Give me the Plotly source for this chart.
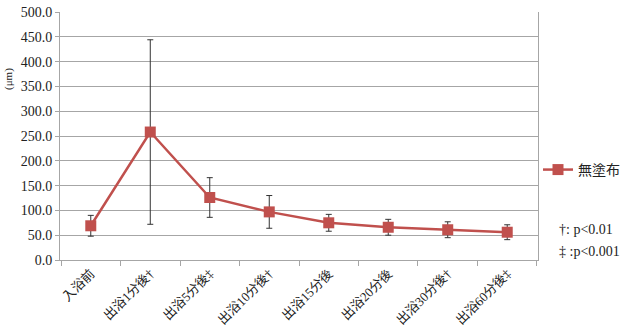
import plotly.graph_objects as go

categories = ["入浴前", "出浴1分後†", "出浴5分後‡", "出浴10分後†", "出浴15分後",
              "出浴20分後", "出浴30分後†", "出浴60分後‡"]
values = [69, 258, 126, 97, 75, 66, 61, 56]
errors = [21, 186, 40, 33, 17, 16, 16, 15]
series_name = "無塗布"
y_ticks = [0, 50, 100, 150, 200, 250, 300, 350, 400, 450, 500]

serif = "Liberation Serif, Noto Sans CJK JP, serif"
red = "#C0504D"
grid = "#A6A6A6"

fig = go.Figure()
fig.add_trace(go.Scatter(
    x=categories, y=values, name=series_name, mode="lines+markers",
    line=dict(color=red, width=2.5),
    marker=dict(symbol="square", size=11, color=red),
    error_y=dict(type="data", array=errors, visible=True, color="#333333",
                 thickness=1, width=3),
))

fig.update_layout(
    width=631, height=335,
    margin=dict(l=60, r=93, t=12, b=75, autoexpand=False),
    paper_bgcolor="white", plot_bgcolor="white",
    font=dict(family=serif, size=13, color="#222222"),
    showlegend=True,
    legend=dict(x=1.0, y=0.363, xanchor="left", yanchor="middle",
                font=dict(family=serif, size=14), bgcolor="rgba(0,0,0,0)",
                itemwidth=30),
    xaxis=dict(type="category", tickangle=-45, showgrid=False,
               showline=True, linecolor=grid, linewidth=1,
               ticks="outside", tickson="boundaries", ticklen=5, tickcolor=grid,
               tickfont=dict(family=serif, size=13)),
    yaxis=dict(range=[0, 500], tickvals=y_ticks, tickformat=".1f",
               showgrid=True, gridcolor=grid, gridwidth=1,
               showline=True, linecolor=grid, linewidth=1, mirror=True,
               ticks="outside", ticklen=4, tickcolor=grid, zeroline=False,
               tickfont=dict(family=serif, size=14)),
    annotations=[
        dict(text="†: p<0.01", x=1.04, y=0.125, xref="paper", yref="paper",
             xanchor="left", yanchor="middle", showarrow=False,
             font=dict(family=serif, size=14)),
        dict(text="‡ :p<0.001", x=1.04, y=0.036, xref="paper", yref="paper",
             xanchor="left", yanchor="middle", showarrow=False,
             font=dict(family=serif, size=14)),
        dict(text="(μm)", x=-0.1245, y=0.73, xref="paper", yref="paper",
             xanchor="left", yanchor="middle", showarrow=False, textangle=-90,
             font=dict(family=serif, size=11)),
    ],
)

fig.write_html("out.html")
